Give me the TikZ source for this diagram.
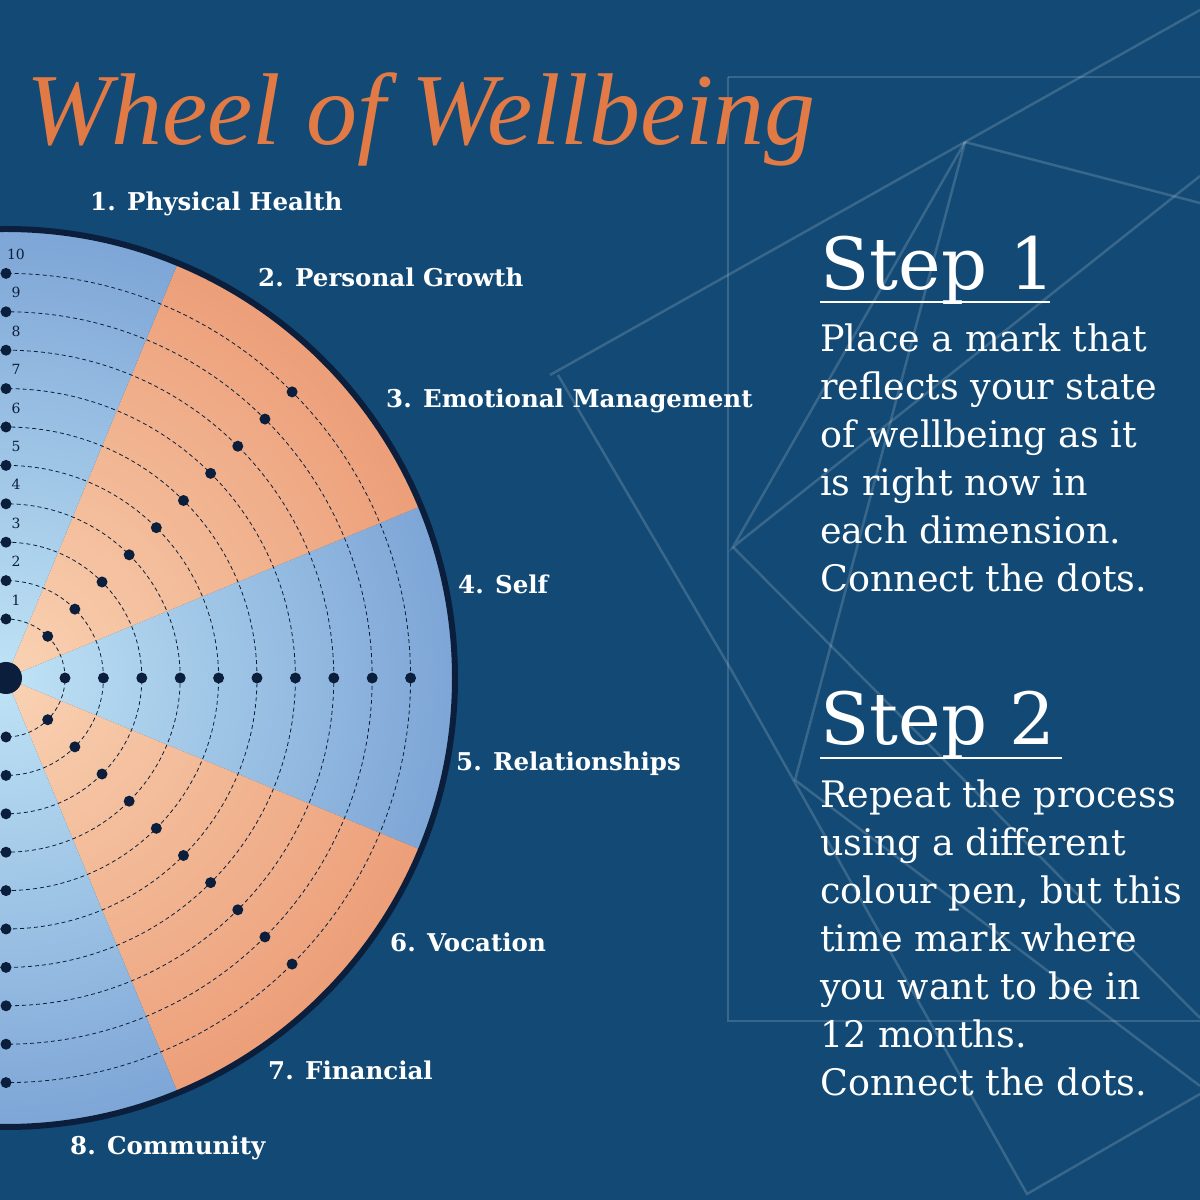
\documentclass[tikz,border=0pt]{standalone}
\usepackage{fontspec}
\setmainfont{DejaVu Serif}
\newfontfamily\titlefont{Liberation Serif}
\usetikzlibrary{calc}
\definecolor{bgblue}{HTML}{124A75}
\definecolor{titleorange}{HTML}{E27A45}
\definecolor{rimdark}{HTML}{0B1F3C}
\definecolor{blueIn}{HTML}{BFE3F5}
\definecolor{blueOut}{HTML}{7DA5D6}
\definecolor{orIn}{HTML}{F9D3B4}
\definecolor{orOut}{HTML}{EC9E78}
\tikzset{
  deco/.style={white, opacity=0.16, line width=2.5pt},
  ring/.style={rimdark, dashed, line width=0.8pt, dash pattern=on 4pt off 3pt},
  dot/.style={circle, fill=rimdark, inner sep=0pt, minimum size=11pt},
  sector label/.style={anchor=west, inner sep=0pt, text=white, font=\fontsize{24.5}{24.5}\selectfont\bfseries},
  ring number/.style={text=rimdark, font=\fontsize{14}{14}\selectfont},
  step title/.style={anchor=base west, inner sep=0pt, text=white, font=\fontsize{72}{72}\selectfont},
  step text/.style={anchor=north west, inner sep=0pt, text=white, align=left,
    font=\fontsize{36.5}{48}\selectfont}
}
\begin{document}
\begin{tikzpicture}[x=1pt,y=1pt]
		\fill[bgblue] (0,0) rectangle (1200,1200);
		\useasboundingbox (0,0) rectangle (1200,1200);

		% background lines
		\draw[deco] (728,1123) -- (1200,1123);
		\draw[deco] (728,1123) -- (728,179) -- (1200,179);
		\draw[deco] (550,825) -- (965,1058) -- (1200,1190);
		\draw[deco] (965,1058) -- (1200,997);
		\draw[deco] (965,1058) -- (733,653) -- (1200,1024);
		\draw[deco] (733,653) -- (1200,182);
		\draw[deco] (558,825) -- (733,527) -- (1027,6) -- (1200,106);
		\draw[deco] (965,1058) -- (795,420) -- (1200,114);

		% wheel
		\coordinate (C) at (6,522);
		\foreach \a/\b/\ci/\co in {-22.5/22.5/blueIn/blueOut, 22.5/67.5/orIn/orOut,
		    67.5/112.5/blueIn/blueOut, -67.5/-22.5/orIn/orOut, -112.5/-67.5/blueIn/blueOut} {
		  \begin{scope}
		    \clip (C) -- ++(\a:450) arc (\a:\b:450) -- cycle;
		    \shade[inner color=\ci, outer color=\co] (C) circle (450);
		  \end{scope}
		}
		\foreach \k in {1,...,10} {
		  \draw[ring] (C) circle ({20.6+38.4*\k});
		  \foreach \ang in {90,45,0,-45,-90}
		    \node[dot] (d\k\ang) at ($(C)+(\ang:{20.6+38.4*\k})$) {};
		  \node[ring number] (n\k) at ($(C)+(10,{20.6+38.4*\k+19})$) {\k};
		}
		\draw[rimdark, line width=6pt] (C) circle (449);
		\node[dot, minimum size=32pt] (hub) at (C) {};

		% sector labels
		\node[sector label] (l1) at (90,996) {1. Physical Health};
		\node[sector label] (l2) at (258,923) {2. Personal Growth};
		\node[sector label] (l3) at (386,799) {3. Emotional Management};
		\node[sector label] (l4) at (458,616) {4. Self};
		\node[sector label] (l5) at (456,436) {5. Relationships};
		\node[sector label] (l6) at (390,258) {6. Vocation};
		\node[sector label] (l7) at (268,130) {7. Financial};
		\node[sector label] (l8) at (70,52) {8. Community};

		% title
		\node[anchor=base west, inner sep=0pt, text=titleorange,
		  font=\titlefont\fontsize{102}{102}\selectfont\itshape] (title) at (26,1055) {Wheel of Wellbeing};

		% steps
		\node[step title] (s1) at (820,910) {Step 1};
		\draw[white, line width=2.5pt] (820,898) -- (1050,898);
		\node[step text] (t1) at (820,876) {Place a mark that\\reflects your state\\of wellbeing as it\\is right now in\\each dimension.\\Connect the dots.};
		\node[step title] (s2) at (820,455) {Step 2};
		\draw[white, line width=2.5pt] (820,442) -- (1062,442);
		\node[step text] (t2) at (820,420) {Repeat the process\\using a different\\colour pen, but this\\time mark where\\you want to be in\\12 months.\\Connect the dots.};
\end{tikzpicture}
\end{document}
